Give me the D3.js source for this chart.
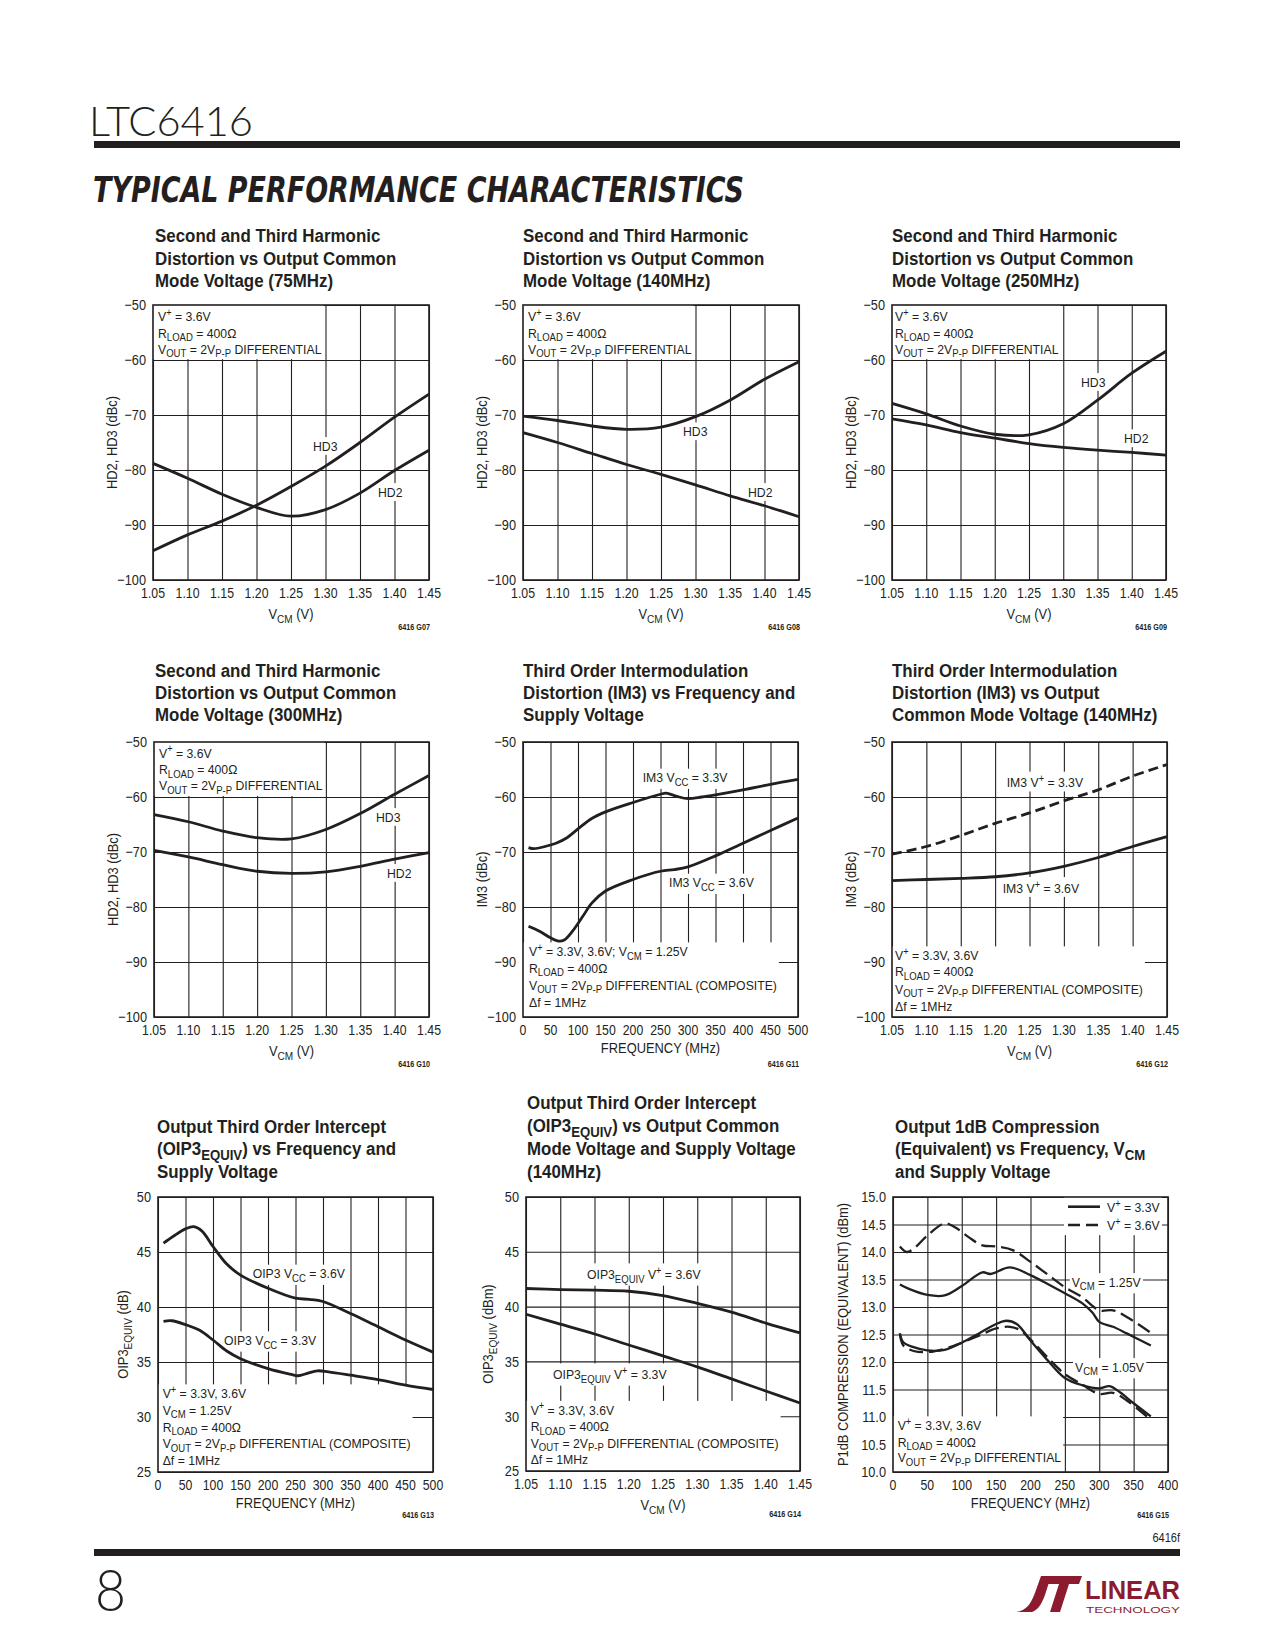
<!DOCTYPE html>
<html><head><meta charset="utf-8">
<script src="https://cdn.jsdelivr.net/npm/d3@7"></script>
<style>body{margin:0;background:#fff}svg{display:block}</style>
</head><body>
<script>
// ---------- DATA ----------
const vcm = [1.05, 1.10, 1.15, 1.20, 1.25, 1.30, 1.35, 1.40, 1.45];
const vcmTicks = [1.05, 1.10, 1.15, 1.20, 1.25, 1.30, 1.35, 1.40, 1.45];
const dbcTicks = [-100, -90, -80, -70, -60, -50];
const freqTicks500 = [0, 50, 100, 150, 200, 250, 300, 350, 400, 450, 500];
const freqTicks400 = [0, 50, 100, 150, 200, 250, 300, 350, 400];
const oipTicks = [25, 30, 35, 40, 45, 50];
const p1Ticks = [10, 10.5, 11, 11.5, 12, 12.5, 13, 13.5, 14, 14.5, 15];

// G07 75MHz
const hd3_75 = [-94.7, -91.8, -89.3, -86.4, -83.0, -79.3, -75.0, -70.4, -66.2];
const hd2_75 = [-78.8, -81.5, -84.4, -86.8, -88.4, -87.2, -84.2, -80.1, -76.4];
// G08 140MHz
const hd3_140 = [-70.2, -71.0, -72.0, -72.6, -72.2, -70.3, -67.3, -63.5, -60.3];
const hd2_140 = [-73.2, -75.0, -77.0, -79.0, -80.8, -82.7, -84.7, -86.5, -88.5];
// G09 250MHz
const hd3_250 = [-67.9, -69.8, -72.0, -73.5, -73.6, -71.6, -67.3, -62.4, -58.4];
const hd2_250 = [-70.7, -71.8, -73.2, -74.2, -75.2, -75.9, -76.4, -76.8, -77.3];
// G10 300MHz
const hd3_300 = [-63.2, -64.5, -66.2, -67.4, -67.6, -65.9, -63.0, -59.5, -56.1];
const hd2_300 = [-69.7, -70.9, -72.3, -73.5, -73.9, -73.6, -72.6, -71.3, -70.1];
// G11 IM3 vs frequency
const im3_33_f = [10, 20, 40, 60, 80, 100, 125, 150, 200, 250, 260, 280, 300, 325, 350, 400, 450, 500];
const im3_33 = [-69.2, -69.4, -69.0, -68.4, -67.4, -65.8, -63.9, -62.7, -61.0, -59.5, -59.3, -59.9, -60.3, -60.0, -59.6, -58.7, -57.7, -56.8];
const im3_36_f = [10, 30, 50, 65, 75, 90, 110, 125, 150, 200, 250, 275, 300, 350, 400, 450, 500];
const im3_36 = [-83.5, -84.4, -85.6, -86.2, -86.0, -84.4, -81.5, -79.3, -77.1, -75.0, -73.5, -73.2, -72.7, -70.7, -68.4, -66.1, -63.8];
// G12 IM3 vs VCM
const im3v_33 = [-70.4, -69.0, -67.0, -64.8, -62.9, -60.7, -58.7, -56.2, -54.1];
const im3v_36 = [-75.2, -75.0, -74.8, -74.5, -73.8, -72.6, -71.0, -69.0, -67.2];
// G13 OIP3 vs frequency
const oip_36_f = [10, 30, 50, 65, 80, 100, 125, 150, 200, 250, 275, 300, 350, 400, 450, 500];
const oip_36 = [45.8, 46.5, 47.1, 47.3, 46.9, 45.5, 43.9, 42.9, 41.7, 40.8, 40.7, 40.5, 39.4, 38.2, 37.0, 35.9];
const oip_33_f = [10, 25, 50, 75, 100, 125, 150, 200, 240, 255, 270, 290, 310, 350, 400, 450, 500];
const oip_33 = [38.7, 38.75, 38.4, 37.9, 37.0, 36.0, 35.3, 34.4, 33.9, 33.75, 33.95, 34.2, 34.1, 33.8, 33.4, 32.9, 32.5];
// G14 OIP3 vs VCM
const oipv_36 = [41.65, 41.55, 41.5, 41.4, 41.0, 40.3, 39.5, 38.5, 37.6];
const oipv_33 = [39.3, 38.4, 37.5, 36.5, 35.5, 34.5, 33.4, 32.3, 31.2];
// G15 P1dB
const p1_125_36_f = [10, 20, 30, 50, 75, 90, 110, 130, 150, 175, 200, 225, 250, 275, 300, 320, 340, 375];
const p1_125_36 = [14.10, 14.0, 14.06, 14.30, 14.52, 14.45, 14.27, 14.12, 14.10, 14.03, 13.82, 13.59, 13.36, 13.18, 12.94, 12.94, 12.82, 12.53];
const p1_125_33_f = [10, 25, 50, 75, 100, 130, 142, 170, 200, 225, 250, 275, 290, 300, 320, 340, 375];
const p1_125_33 = [13.41, 13.32, 13.22, 13.21, 13.38, 13.63, 13.60, 13.72, 13.58, 13.42, 13.25, 13.07, 12.90, 12.73, 12.64, 12.52, 12.30];
const p1_105_33_f = [10, 15, 30, 50, 75, 100, 125, 150, 165, 180, 200, 225, 250, 275, 300, 315, 330, 350, 375];
const p1_105_33 = [12.52, 12.36, 12.27, 12.21, 12.22, 12.35, 12.52, 12.69, 12.75, 12.69, 12.39, 12.03, 11.71, 11.58, 11.52, 11.56, 11.45, 11.25, 11.01];
const p1_105_36_f = [10, 15, 30, 50, 75, 100, 125, 150, 170, 185, 200, 225, 250, 275, 300, 320, 340, 375];
const p1_105_36 = [12.52, 12.30, 12.20, 12.18, 12.24, 12.35, 12.48, 12.61, 12.64, 12.58, 12.41, 12.08, 11.78, 11.59, 11.42, 11.44, 11.30, 10.95];

// text blocks
const topBlock = ["V^{+} = 3.6V", "R_{LOAD} = 400Ω", "V_{OUT} = 2V_{P-P} DIFFERENTIAL"];
const im3fBlock = ["V^{+} = 3.3V, 3.6V; V_{CM} = 1.25V", "R_{LOAD} = 400Ω", "V_{OUT} = 2V_{P-P} DIFFERENTIAL (COMPOSITE)", "Δf = 1MHz"];
const compBlock = ["V^{+} = 3.3V, 3.6V", "R_{LOAD} = 400Ω", "V_{OUT} = 2V_{P-P} DIFFERENTIAL (COMPOSITE)", "Δf = 1MHz"];
const oipBlock = ["V^{+} = 3.3V, 3.6V", "V_{CM} = 1.25V", "R_{LOAD} = 400Ω", "V_{OUT} = 2V_{P-P} DIFFERENTIAL (COMPOSITE)", "Δf = 1MHz"];
const p1Block = ["V^{+} = 3.3V, 3.6V", "R_{LOAD} = 400Ω", "V_{OUT} = 2V_{P-P} DIFFERENTIAL"];

// ---------- DRAWING ----------
const INK = '#231f20';
const FONT = "'Liberation Sans', Arial, Helvetica, sans-serif";
const svg = d3.select('body').append('svg').attr('width', 1275).attr('height', 1650);
svg.append('rect').attr('width', 1275).attr('height', 1650).attr('fill', '#fff');

function rich(text, str, fs) {
  const re = /([_^])\{([^}]*)\}/g;
  let last = 0, cur = 0, m;
  const add = (s, off, size) => {
    if (!s) return;
    const t = text.append('tspan').text(s).attr('dy', off - cur);
    if (size) t.attr('font-size', size);
    cur = off;
  };
  while ((m = re.exec(str))) {
    add(str.slice(last, m.index), 0, null);
    if (m[1] === '_') add(m[2], fs * 0.26, fs * 0.78);
    else add(m[2], -fs * 0.38, fs * 0.75);
    last = re.lastIndex;
  }
  add(str.slice(last), 0, null);
}
function T(parent, x, y, str, o = {}) {
  const fs = o.fs || 13, sx = o.sx || 0.95;
  const t = parent.append('text')
    .attr('transform', `translate(${x},${y})${o.rot ? ' rotate(-90)' : ''} scale(${sx},1)`)
    .attr('font-family', o.family || FONT).attr('font-size', fs)
    .attr('font-weight', o.bold ? 700 : 400).attr('fill', o.fill || INK)
    .attr('text-anchor', o.anchor || 'start');
  rich(t, str, fs);
  return t;
}

const fmtNeg = v => (v < 0 ? '\u2212' + Math.abs(v) : String(v));
const fmt2 = d3.format('.2f'), fmtD = d3.format('d'), fmt1 = d3.format('.1f');
const hdTitle = f => ["Second and Third Harmonic", "Distortion vs Output Common", `Mode Voltage (${f})`];
const ANN = { fs: 13.6, sx: 0.9 };

const charts = [
  { x0: 153, x1: 429, y0: 305, y1: 580, tx: 155, tb: [242, 265, 287], title: hdTitle('75MHz'),
    xd: [1.05, 1.45], xt: vcmTicks, xf: fmt2, yd: [-100, -50], yt: dbcTicks, yf: fmtNeg,
    xTitle: 'V_{CM} (V)', xtDy: 39, yTitle: 'HD2, HD3 (dBc)', ytDx: -41, note: '6416 G07', noteDy: 50,
    series: [{ x: vcm, y: hd3_75 }, { x: vcm, y: hd2_75 }],
    labels: [{ dx: 5, dy: [16, 32.5, 48.5], lines: topBlock, box: 'tl' }, { dx: 160, dy: [145.7], lines: ['HD3'] }, { dx: 225, dy: [191.7], lines: ['HD2'] }] },
  { x0: 523, x1: 799, y0: 305, y1: 580, tx: 523, tb: [242, 265, 287], title: hdTitle('140MHz'),
    xd: [1.05, 1.45], xt: vcmTicks, xf: fmt2, yd: [-100, -50], yt: dbcTicks, yf: fmtNeg,
    xTitle: 'V_{CM} (V)', xtDy: 39, yTitle: 'HD2, HD3 (dBc)', ytDx: -41, note: '6416 G08', noteDy: 50,
    series: [{ x: vcm, y: hd3_140 }, { x: vcm, y: hd2_140 }],
    labels: [{ dx: 5, dy: [16, 32.5, 48.5], lines: topBlock, box: 'tl' }, { dx: 160, dy: [131], lines: ['HD3'] }, { dx: 225, dy: [191.7], lines: ['HD2'] }] },
  { x0: 892, x1: 1166, y0: 305, y1: 580, tx: 892, tb: [242, 265, 287], title: hdTitle('250MHz'),
    xd: [1.05, 1.45], xt: vcmTicks, xf: fmt2, yd: [-100, -50], yt: dbcTicks, yf: fmtNeg,
    xTitle: 'V_{CM} (V)', xtDy: 39, yTitle: 'HD2, HD3 (dBc)', ytDx: -41, note: '6416 G09', noteDy: 50,
    series: [{ x: vcm, y: hd3_250 }, { x: vcm, y: hd2_250 }],
    labels: [{ dx: 3, dy: [16, 32.5, 48.5], lines: topBlock, box: 'tl' }, { dx: 189, dy: [81.7], lines: ['HD3'] }, { dx: 232, dy: [138], lines: ['HD2'] }] },
  { x0: 154, x1: 429, y0: 742, y1: 1017, tx: 155, tb: [677, 699, 721], title: hdTitle('300MHz'),
    xd: [1.05, 1.45], xt: vcmTicks, xf: fmt2, yd: [-100, -50], yt: dbcTicks, yf: fmtNeg,
    xTitle: 'V_{CM} (V)', xtDy: 39, yTitle: 'HD2, HD3 (dBc)', ytDx: -41, note: '6416 G10', noteDy: 50,
    series: [{ x: vcm, y: hd3_300 }, { x: vcm, y: hd2_300 }],
    labels: [{ dx: 5, dy: [15.5, 32, 48.3], lines: topBlock, box: 'tl' }, { dx: 222, dy: [79.7], lines: ['HD3'] }, { dx: 233, dy: [135.7], lines: ['HD2'] }] },
  { x0: 523, x1: 798, y0: 742, y1: 1017, tx: 523, tb: [677, 699, 721],
    title: ["Third Order Intermodulation", "Distortion (IM3) vs Frequency and", "Supply Voltage"],
    xd: [0, 500], xt: freqTicks500, xf: fmtD, yd: [-100, -50], yt: dbcTicks, yf: fmtNeg,
    xTitle: 'FREQUENCY (MHz)', xtDy: 36, yTitle: 'IM3 (dBc)', ytDx: -41.5, note: '6416 G11', noteDy: 50,
    series: [{ x: im3_33_f, y: im3_33 }, { x: im3_36_f, y: im3_36 }],
    labels: [{ dx: 119.7, dy: [40.3], lines: ['IM3 V_{CC} = 3.3V'] }, { dx: 146, dy: [145.3], lines: ['IM3 V_{CC} = 3.6V'] },
      { dx: 6, dy: [214, 230.5, 247.5, 264.5], lines: im3fBlock, box: 'bl' }] },
  { x0: 892, x1: 1167, y0: 742, y1: 1017, tx: 892, tb: [677, 699, 721],
    title: ["Third Order Intermodulation", "Distortion (IM3) vs Output", "Common Mode Voltage (140MHz)"],
    xd: [1.05, 1.45], xt: vcmTicks, xf: fmt2, yd: [-100, -50], yt: dbcTicks, yf: fmtNeg,
    xTitle: 'V_{CM} (V)', xtDy: 39, yTitle: 'IM3 (dBc)', ytDx: -41.5, note: '6416 G12', noteDy: 50,
    series: [{ x: vcm, y: im3v_33, dash: '10,5' }, { x: vcm, y: im3v_36 }],
    labels: [{ dx: 114.7, dy: [45.3], lines: ['IM3 V^{+} = 3.3V'] }, { dx: 110.7, dy: [150.7], lines: ['IM3 V^{+} = 3.6V'] },
      { dx: 3, dy: [218, 234, 251.5, 268.5], lines: compBlock, box: 'bl' }] },
  { x0: 158, x1: 433, y0: 1197, y1: 1472, tx: 157, tb: [1133, 1155, 1178],
    title: ["Output Third Order Intercept", "(OIP3_{EQUIV}) vs Frequency and", "Supply Voltage"],
    xd: [0, 500], xt: freqTicks500, xf: fmtD, yd: [25, 50], yt: oipTicks, yf: fmtD,
    xTitle: 'FREQUENCY (MHz)', xtDy: 36, yTitle: 'OIP3_{EQUIV} (dB)', ytDx: -35, note: '6416 G13', noteDy: 46,
    series: [{ x: oip_36_f, y: oip_36 }, { x: oip_33_f, y: oip_33 }],
    labels: [{ dx: 94.7, dy: [81.3], lines: ['OIP3 V_{CC} = 3.6V'] }, { dx: 66, dy: [148], lines: ['OIP3 V_{CC} = 3.3V'] },
      { dx: 4.7, dy: [201, 217.5, 234.5, 251, 268], lines: oipBlock, box: 'bl' }] },
  { x0: 526, x1: 800, y0: 1197, y1: 1471, tx: 527, tb: [1109, 1132, 1155, 1178],
    title: ["Output Third Order Intercept", "(OIP3_{EQUIV}) vs Output Common", "Mode Voltage and Supply Voltage", "(140MHz)"],
    xd: [1.05, 1.45], xt: vcmTicks, xf: fmt2, yd: [25, 50], yt: oipTicks, yf: fmtD,
    xTitle: 'V_{CM} (V)', xtDy: 39, yTitle: 'OIP3_{EQUIV} (dBm)', ytDx: -38, note: '6416 G14', noteDy: 46,
    series: [{ x: vcm, y: oipv_36 }, { x: vcm, y: oipv_33 }],
    labels: [{ dx: 61, dy: [82], lines: ['OIP3_{EQUIV} V^{+} = 3.6V'] }, { dx: 27, dy: [182], lines: ['OIP3_{EQUIV} V^{+} = 3.3V'] },
      { dx: 4.7, dy: [217.5, 234, 250.5, 267], lines: compBlock, box: 'bl' }] },
  { x0: 893, x1: 1168, y0: 1197, y1: 1472, tx: 895, tb: [1133, 1155, 1178],
    title: ["Output 1dB Compression", "(Equivalent) vs Frequency, V_{CM}", "and Supply Voltage"],
    xd: [0, 400], xt: freqTicks400, xf: fmtD, yd: [10, 15], yt: p1Ticks, yf: fmt1,
    xTitle: 'FREQUENCY (MHz)', xtDy: 36, yTitle: 'P1dB COMPRESSION (EQUIVALENT) (dBm)', ytDx: -50, note: '6416 G15', noteDy: 46,
    series: [{ x: p1_125_36_f, y: p1_125_36, dash: '14,6', w: 2.3 }, { x: p1_125_33_f, y: p1_125_33, w: 2.3 },
      { x: p1_105_33_f, y: p1_105_33, w: 2.3 }, { x: p1_105_36_f, y: p1_105_36, dash: '14,6', w: 2.3 }],
    labels: [{ dx: 178.7, dy: [89.7], lines: ['V_{CM} = 1.25V'] }, { dx: 182, dy: [174.7], lines: ['V_{CM} = 1.05V'] },
      { dx: 4.7, dy: [233, 249.7, 265], lines: p1Block, box: 'bl' }],
    legend: [{ text: 'V^{+} = 3.3V', dash: null }, { text: 'V^{+} = 3.6V', dash: '12,6' }] }
];

function drawChart(c) {
  const g = svg.append('g');
  const x = d3.scaleLinear().domain(c.xd).range([c.x0, c.x1]);
  const y = d3.scaleLinear().domain(c.yd).range([c.y1, c.y0]);
  const w = c.x1 - c.x0, h = c.y1 - c.y0;

  c.title.forEach((t, i) => T(g, c.tx, c.tb[i], t, { fs: 19, sx: 0.89, bold: true }));

  const grid = g.append('g');
  grid.append('g').attr('transform', `translate(0,${c.y1})`)
    .call(d3.axisBottom(x).tickValues(c.xt).tickSize(-h).tickFormat(''))
    .call(s => s.select('.domain').remove());
  grid.append('g').attr('transform', `translate(${c.x0},0)`)
    .call(d3.axisLeft(y).tickValues(c.yt).tickSize(-w).tickFormat(''))
    .call(s => s.select('.domain').remove());
  grid.selectAll('line').attr('stroke', INK).attr('stroke-width', 1.1);

  const bg = g.append('g'), curves = g.append('g'), labels = g.append('g');

  c.labels.forEach(L => {
    const lg = labels.append('g');
    L.lines.forEach((s, i) => T(lg, c.x0 + L.dx, c.y0 + L.dy[i], s, ANN));
    const b = lg.node().getBBox();
    let rx = b.x - 2, ry = b.y - 1, rw = b.width + 4, rh = b.height + 2;
    if (L.box === 'tl') { rx = c.x0; rw = b.x + b.width + 2 - c.x0; ry = c.y0; rh = b.y + b.height - c.y0; }
    if (L.box === 'bl') { rx = c.x0; rw = b.x + b.width + 2 - c.x0; ry = b.y + 1; rh = c.y1 - ry; }
    bg.append('rect').attr('x', rx).attr('y', ry).attr('width', rw).attr('height', rh).attr('fill', '#fff');
  });

  if (c.legend) {
    const lg = labels.append('g');
    c.legend.forEach((it, i) => {
      const ly = c.y0 + 9.7 + i * 18.3;
      lg.append('line').attr('x1', c.x0 + 175).attr('x2', c.x0 + 207).attr('y1', ly).attr('y2', ly)
        .attr('stroke', INK).attr('stroke-width', 2.6).attr('stroke-dasharray', it.dash);
      T(lg, c.x0 + 214, ly + 5, it.text, ANN);
    });
    const b = lg.node().getBBox();
    bg.append('rect').attr('x', b.x - 4).attr('y', c.y0).attr('width', b.width + 6).attr('height', b.y + b.height + 2 - c.y0).attr('fill', '#fff');
  }

  const line = d3.line().x(d => x(d[0])).y(d => y(d[1])).curve(d3.curveCatmullRom.alpha(0.5));
  c.series.forEach(s => {
    curves.append('path').datum(d3.zip(s.x, s.y)).attr('d', line)
      .attr('fill', 'none').attr('stroke', INK).attr('stroke-width', s.w || 2.8)
      .attr('stroke-dasharray', s.dash || null).attr('stroke-linejoin', 'round');
  });

  g.append('rect').attr('x', c.x0).attr('y', c.y0).attr('width', w).attr('height', h)
    .attr('fill', 'none').attr('stroke', INK).attr('stroke-width', 1.6);

  c.xt.forEach(v => T(g, x(v), c.y1 + 18, c.xf(v), { fs: 15, sx: 0.82, anchor: 'middle' }));
  c.yt.forEach(v => T(g, c.x0 - 7, y(v) + 5.3, c.yf(v), { fs: 15, sx: 0.85, anchor: 'end' }));
  T(g, (c.x0 + c.x1) / 2, c.y1 + c.xtDy, c.xTitle, { fs: 15, sx: 0.86, anchor: 'middle' });
  T(g, c.x0 + c.ytDx + 5, (c.y0 + c.y1) / 2, c.yTitle, { fs: 15, sx: 0.86, anchor: 'middle', rot: true });
  T(g, c.x1 + 1, c.y1 + c.noteDy, c.note, { fs: 8.5, sx: 0.85, anchor: 'end', bold: true });
}
charts.forEach(drawChart);

// ---------- PAGE HEADER / FOOTER ----------
svg.append('text').attr('x', 89).attr('y', 136).attr('font-family', "Lato, 'Open Sans', sans-serif")
  .attr('font-weight', 300).attr('font-size', 42).attr('fill', INK)
  .attr('textLength', 164).attr('lengthAdjust', 'spacingAndGlyphs').text('LTC6416');
svg.append('rect').attr('x', 94).attr('y', 141).attr('width', 1086).attr('height', 7).attr('fill', INK);
svg.append('text').attr('x', 93).attr('y', 202).attr('font-family', "'DejaVu Sans', sans-serif")
  .attr('font-weight', 700).attr('font-style', 'oblique').attr('font-size', 36).attr('fill', INK)
  .attr('textLength', 651).attr('lengthAdjust', 'spacingAndGlyphs').text('TYPICAL PERFORMANCE CHARACTERISTICS');

T(svg, 1180, 1542, '6416f', { fs: 13, sx: 0.85, anchor: 'end' });
svg.append('rect').attr('x', 94).attr('y', 1549).attr('width', 1086).attr('height', 7).attr('fill', INK);
svg.append('text').attr('x', 95).attr('y', 1611).attr('font-family', "Lato, 'Open Sans', sans-serif")
  .attr('font-weight', 300).attr('font-size', 57).attr('fill', INK)
  .attr('textLength', 31).attr('lengthAdjust', 'spacingAndGlyphs').text('8');

const RED = '#8d1b30';
const logo = svg.append('g').attr('transform', 'translate(1016,1575)');
logo.append('path').attr('fill', RED)
  .attr('d', 'M0,37 C11,36 16,27 20,15 L25,1 L35,1 L29,20 C25,31 21,35 16,37 Z');
logo.append('path').attr('fill', RED)
  .attr('d', 'M31,1 L66,1 L63,9 L53,9 L44,37 L34,37 L43,9 L29,9 Z');
logo.append('text').attr('x', 69).attr('y', 24).attr('font-family', FONT).attr('font-weight', 700)
  .attr('font-size', 26).attr('fill', RED).attr('textLength', 95).attr('lengthAdjust', 'spacingAndGlyphs').text('LINEAR');
logo.append('text').attr('x', 70).attr('y', 38).attr('font-family', FONT)
  .attr('font-size', 8.5).attr('fill', RED).attr('textLength', 94).attr('lengthAdjust', 'spacingAndGlyphs').text('TECHNOLOGY');
</script>
</body></html>
